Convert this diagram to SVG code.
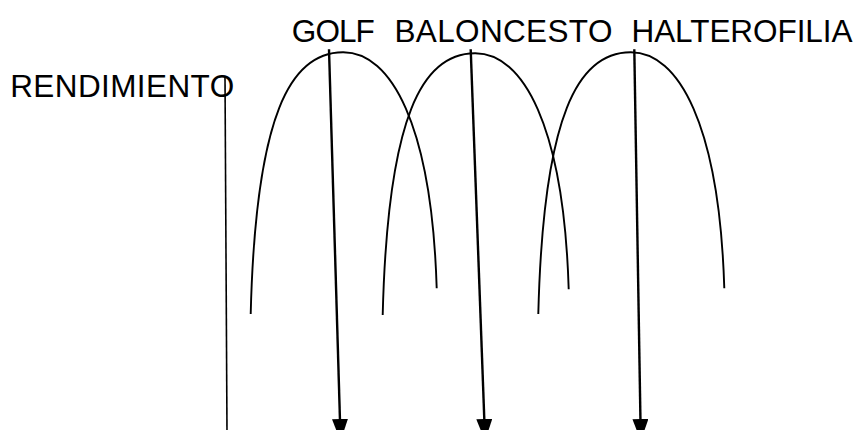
<svg xmlns="http://www.w3.org/2000/svg" width="855" height="430" viewBox="0 0 855 430">
  <style>
    .lbl { font-family: "Liberation Sans", Arial, sans-serif; font-size: 31.5px; fill: #000; }
    .curve { fill: none; stroke: #000; stroke-width: 1.9; }
    .axis { fill: none; stroke: #000; stroke-width: 1.6; }
    .arrow { fill: none; stroke: #000; stroke-width: 2.4; marker-end: url(#ah); }
  </style>
  <defs>
    <marker id="ah" viewBox="0 0 22 16" refX="22" refY="8" markerWidth="22" markerHeight="16" markerUnits="userSpaceOnUse" orient="auto">
      <path d="M0,0 L22,8 L0,16 Z" fill="#000"/>
    </marker>
    <path id="bell" d="M0,0 C5,-200 40,-262 92.6,-261.7 C140,-261.7 181,-190 186,-25.7"/>
  </defs>
  <rect width="855" height="430" fill="#fff"/>

  <g id="rendimiento">
    <text class="lbl" x="10.2" y="96.5" textLength="224" lengthAdjust="spacing">RENDIMIENTO</text>
  </g>
  <g id="golf">
    <text class="lbl" x="291.8" y="42.3" textLength="83" lengthAdjust="spacing">GOLF</text>
    <use href="#bell" class="curve" transform="translate(250.7,314)"/>
  </g>
  <g id="baloncesto">
    <text class="lbl" x="394.4" y="42.3" textLength="218" lengthAdjust="spacing">BALONCESTO</text>
    <use href="#bell" class="curve" transform="translate(382.7,315)"/>
  </g>
  <g id="halterofilia">
    <text class="lbl" x="631.5" y="42.3" textLength="221" lengthAdjust="spacing">HALTEROFILIA</text>
    <use href="#bell" class="curve" transform="translate(538.3,314)"/>
  </g>

  <g id="connectors">
    <line class="axis" x1="225" y1="76.5" x2="227" y2="432"/>
    <line class="arrow" x1="329" y1="49.3" x2="340.6" y2="441"/>
    <line class="arrow" x1="470.7" y1="49.3" x2="485.1" y2="441"/>
    <line class="arrow" x1="634.3" y1="49.3" x2="640.8" y2="441"/>
  </g>
</svg>
